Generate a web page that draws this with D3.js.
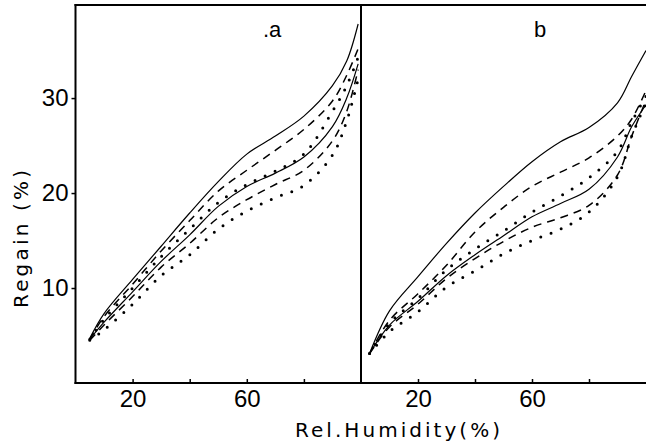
<!DOCTYPE html>
<html>
<head>
<meta charset="utf-8">
<script src="https://cdn.jsdelivr.net/npm/d3@7/dist/d3.min.js"></script>
<style>
body{margin:0;background:white;}
</style>
</head>
<body>
<div id="container"></div>
<script>
let w = 646;
let h = 448;

// DATA - panel a (rel. humidity %, regain %)
let humidityA = [5, 10, 20, 30, 40, 50, 60, 70, 80, 90, 95, 99];
let solidUpperA  = [4.7, 7.3, 10.9, 14.4, 17.9, 21.2, 24.1, 26.0, 28.1, 31.3, 33.9, 37.8];
let dashedUpperA = [4.6, 7.0, 10.4, 13.9, 17.1, 20.2, 22.4, 24.5, 26.7, 29.7, 32.4, 35.2];
let dottedUpperA = [4.6, 6.7, 10.0, 13.3, 16.2, 19.0, 20.9, 22.3, 24.1, 28.6, 31.3, 34.3];
let solidLowerA  = [4.6, 6.4, 9.6, 12.8, 15.6, 18.6, 20.7, 22.1, 23.8, 27.0, 30.0, 33.6];
let dashedLowerA = [4.5, 6.1, 9.1, 12.2, 14.7, 17.4, 19.3, 20.9, 22.4, 25.5, 28.6, 33.0];
let dottedLowerA = [4.5, 5.6, 8.3, 11.3, 13.5, 16.2, 18.1, 19.5, 20.8, 24.0, 27.6, 32.0];

// DATA - panel b
let humidityB = [3, 10, 20, 30, 40, 50, 60, 70, 80, 90, 95, 100];
let solidUpperB  = [3.1, 7.6, 11.2, 14.7, 17.9, 20.7, 23.3, 25.4, 26.9, 29.5, 32.3, 35.0];
let dashedUpperB = [3.1, 6.6, 9.4, 12.4, 15.9, 18.5, 20.7, 22.2, 23.7, 26.0, 27.8, 30.8];
let solidLowerB  = [3.1, 6.3, 8.9, 11.9, 14.1, 16.0, 18.0, 19.7, 21.6, 24.4, 27.5, 30.2];
let dottedUpperB = [3.1, 6.1, 8.6, 11.3, 13.5, 15.5, 17.5, 18.9, 20.4, 23.8, 27.0, 29.3];
let dashedLowerB = [3.1, 5.9, 8.3, 11.0, 13.1, 14.9, 16.4, 17.4, 18.7, 21.9, 26.0, 29.8];
let dottedLowerB = [3.1, 5.4, 7.5, 10.1, 11.8, 13.6, 15.0, 16.2, 18.0, 21.7, 26.0, 29.5];

// TICKS
let regainTicks = [10, 20, 30];
let humidityTicks = [20, 40, 60, 80];
let humidityLabels = [20, 60];
let panelNames = [".a", "b"];

// SVG
let viz = d3.select("#container").append("svg")
  .attr("width", w)
  .attr("height", h)
  .style("background-color", "white")
;

// SCALES
let yScale = d3.scaleLinear().domain([0, 39.8]).range([383, 5]);
let xScaleA = d3.scaleLinear().domain([0, 100]).range([75.5, 361]);
let xScaleB = d3.scaleLinear().domain([0, 100]).range([361, 646]);

let font = "Liberation Sans, Arial, sans-serif";
let titleFont = "DejaVu Sans, sans-serif";

// line look for the six curves of each panel (same order as the arrays)
let lineKinds = ["solid", "dashed", "dotted", "solid", "dashed", "dotted"];

function styleCurve(sel, kind){
  sel.attr("fill", "none").attr("stroke", "black");
  if(kind == "solid"){
    sel.attr("stroke-width", 1.2);
  }else if(kind == "dashed"){
    sel.attr("stroke-width", 1.5).attr("stroke-dasharray", "8,6");
  }else{
    sel.attr("stroke-width", 3).attr("stroke-linecap", "round").attr("stroke-dasharray", "0,11");
  }
}

function drawPanel(xScale, humidity, seriesList, name, nameX){
  let lineMaker = d3.line()
    .x(function(d){ return xScale(d.rh); })
    .y(function(d){ return yScale(d.regain); })
    .curve(d3.curveCatmullRom.alpha(0.5))
  ;
  seriesList.forEach(function(values, i){
    let pts = humidity.map(function(rh, j){ return {rh: rh, regain: values[j]}; });
    viz.append("path")
      .datum(pts)
      .attr("d", lineMaker)
      .call(styleCurve, lineKinds[i])
    ;
  });

  // x axis (small inward ticks, labels only at 20 and 60)
  let xAxis = d3.axisBottom(xScale)
    .tickValues(humidityTicks)
    .tickSize(-4)
    .tickSizeOuter(0)
    .tickPadding(7)
    .tickFormat(function(d){ return humidityLabels.indexOf(d) >= 0 ? d : ""; })
  ;
  let gx = viz.append("g")
    .attr("transform", "translate(0," + yScale(0) + ")")
    .call(xAxis)
  ;
  gx.select(".domain").remove();
  gx.selectAll("line").attr("stroke-width", 1.5);
  gx.selectAll("text")
    .attr("font-family", font)
    .attr("font-size", 24)
    .attr("fill", "black")
  ;

  viz.append("text")
    .attr("x", nameX)
    .attr("y", 37)
    .attr("font-family", font)
    .attr("font-size", 22)
    .text(name)
  ;
}

drawPanel(xScaleA, humidityA,
  [solidUpperA, dashedUpperA, dottedUpperA, solidLowerA, dashedLowerA, dottedLowerA],
  panelNames[0], 263);
drawPanel(xScaleB, humidityB,
  [solidUpperB, dashedUpperB, solidLowerB, dottedUpperB, dashedLowerB, dottedLowerB],
  panelNames[1], 534);

// Y AXIS
let yAxis = d3.axisLeft(yScale)
  .tickValues(regainTicks)
  .tickSize(4)
  .tickSizeOuter(0)
  .tickPadding(3)
;
let gy = viz.append("g")
  .attr("transform", "translate(" + xScaleA(0) + ",0)")
  .call(yAxis)
;
gy.select(".domain").remove();
gy.selectAll("line").attr("stroke-width", 1.5);
gy.selectAll("text")
  .attr("font-family", font)
  .attr("font-size", 24)
  .attr("fill", "black")
;

// FRAME
let topValue = yScale.domain()[1];
let frame = [
  [xScaleA(0), yScale(0), xScaleB(100), yScale(0)],
  [xScaleA(0), yScale(topValue), xScaleB(100), yScale(topValue)],
  [xScaleA(0), yScale(0), xScaleA(0), yScale(topValue)],
  [xScaleA(100), yScale(0), xScaleA(100), yScale(topValue)]
];
viz.selectAll(".frame").data(frame).enter()
  .append("line")
  .attr("class", "frame")
  .attr("x1", function(d){ return d[0]; })
  .attr("y1", function(d){ return d[1]; })
  .attr("x2", function(d){ return d[2]; })
  .attr("y2", function(d){ return d[3]; })
  .attr("stroke", "black")
  .attr("stroke-width", 2)
  .attr("stroke-linecap", "square")
;

// AXIS TITLES
viz.append("text")
  .attr("x", 295)
  .attr("y", 437)
  .attr("font-family", titleFont)
  .attr("font-size", 20)
  .attr("textLength", 205)
  .attr("lengthAdjust", "spacing")
  .text("Rel.Humidity(%)")
;
viz.append("text")
  .attr("transform", "translate(28,308) rotate(-90)")
  .attr("font-family", titleFont)
  .attr("font-size", 20)
  .attr("textLength", 138)
  .attr("lengthAdjust", "spacing")
  .text("Regain (%)")
;
</script>
</body>
</html>
